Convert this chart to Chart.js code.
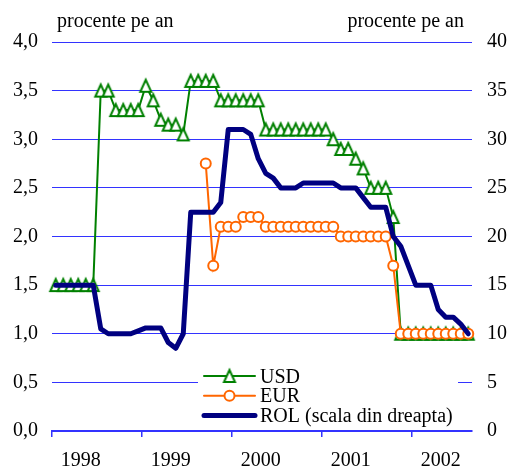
<!DOCTYPE html>
<html>
<head>
<meta charset="utf-8">
<script src="https://cdn.jsdelivr.net/npm/chart.js@4/dist/chart.umd.min.js"></script>
<style>
  body { margin: 0; background: #fff; }
  canvas { display: block; }
</style>
</head>
<body>
<canvas id="grafic" width="511" height="471"></canvas>
<script>
// dobanzi lunare, ian. 1998 - aug. 2002
const ani = ['1998', '1999', '2000', '2001', '2002'];
const nrLuni = 56;

const usd = [1.5, 1.5, 1.5, 1.5, 1.5, 1.5, 3.5, 3.5, 3.3, 3.3, 3.3, 3.3,
             3.55, 3.4, 3.2, 3.15, 3.15, 3.05, 3.6, 3.6, 3.6, 3.6, 3.4, 3.4,
             3.4, 3.4, 3.4, 3.4, 3.1, 3.1, 3.1, 3.1, 3.1, 3.1, 3.1, 3.1,
             3.1, 3.0, 2.9, 2.9, 2.8, 2.7, 2.5, 2.5, 2.5, 2.2, 1.0, 1.0,
             1.0, 1.0, 1.0, 1.0, 1.0, 1.0, 1.0, 1.0];

const eur = [null, null, null, null, null, null, null, null, null, null, null, null,
             null, null, null, null, null, null, null, null, 2.75, 1.7, 2.1, 2.1,
             2.1, 2.2, 2.2, 2.2, 2.1, 2.1, 2.1, 2.1, 2.1, 2.1, 2.1, 2.1,
             2.1, 2.1, 2.0, 2.0, 2.0, 2.0, 2.0, 2.0, 2.0, 1.7, 1.0, 1.0,
             1.0, 1.0, 1.0, 1.0, 1.0, 1.0, 1.0, 1.0];

const rol = [15, 15, 15, 15, 15, 15, 10.5, 10, 10, 10, 10, 10.3,
             10.6, 10.6, 10.6, 9.1, 8.5, 10, 22.5, 22.5, 22.5, 22.5, 23.5, 31,
             31, 31, 30.5, 28, 26.5, 26, 25, 25, 25, 25.5, 25.5, 25.5,
             25.5, 25.5, 25, 25, 25, 24, 23, 23, 23, 20, 19, 17,
             15, 15, 15, 12.5, 11.7, 11.7, 11, 10];

const luni = [];
ani.forEach(function(an) {
    for (let m = 1; m <= 12; m++) {
        if (luni.length < nrLuni) luni.push(an + '-' + (m < 10 ? '0' + m : m));
    }
});

const albastru = '#3333ff';
const font = '"Liberation Serif", "Times New Roman", serif';

Chart.defaults.font.family = font;
Chart.defaults.font.size = 20;
Chart.defaults.color = '#000';

// marcaj triunghi, centrat pe mijlocul inaltimii (ca in Excel)
const triunghi = document.createElement('canvas');
triunghi.width = 18;
triunghi.height = 18;
(function() {
    const c = triunghi.getContext('2d');
    c.beginPath();
    c.moveTo(9, 3);
    c.lineTo(14.5, 15);
    c.lineTo(3.5, 15);
    c.closePath();
    c.fillStyle = '#fff';
    c.fill();
    c.lineWidth = 2;
    c.strokeStyle = '#008000';
    c.stroke();
})();

// legenda in interiorul graficului + eticheta "procente pe an"
const legenda = {
    id: 'legenda',
    afterDraw(chart) {
        const ctx = chart.ctx;
        const ca = chart.chartArea;
        const rows = [
            { text: 'USD', color: '#008000', width: 2, style: 'triangle' },
            { text: 'EUR', color: '#ff6600', width: 2, style: 'circle' },
            { text: 'ROL (scala din dreapta)', color: '#000080', width: 5, style: false }
        ];
        const x0 = ca.left + 146;
        ctx.save();
        ctx.fillStyle = '#fff';
        ctx.fillRect(x0, ca.bottom - 69, 260, 64);
        rows.forEach(function(r, i) {
            const y = ca.bottom - 55 + i * 19.7;
            ctx.strokeStyle = r.color;
            ctx.lineWidth = r.width;
            ctx.lineCap = 'round';
            ctx.beginPath();
            ctx.moveTo(x0 + 6, y);
            ctx.lineTo(x0 + 57, y);
            ctx.stroke();
            if (r.style === 'triangle') {
                ctx.drawImage(triunghi, x0 + 31.5 - 9, y - 9);
            } else if (r.style) {
                ctx.fillStyle = '#fff';
                Chart.helpers.drawPoint(ctx, { pointStyle: 'circle', radius: 5, borderWidth: 2, rotation: 0 }, x0 + 31.5, y);
            }
            ctx.fillStyle = '#000';
            ctx.font = '20px ' + font;
            ctx.textAlign = 'left';
            ctx.textBaseline = 'alphabetic';
            ctx.fillText(r.text, x0 + 62, y + 6.5);
        });
        ctx.fillText('procente pe an', ca.left + 5, 27);
        ctx.textAlign = 'right';
        ctx.fillText('procente pe an', ca.right - 8, 27);
        ctx.restore();
    }
};

new Chart(document.getElementById('grafic'), {
    type: 'line',
    data: {
        labels: luni,
        datasets: [{
            label: 'USD',
            data: usd,
            yAxisID: 'y',
            order: 3,
            borderColor: '#008000',
            borderWidth: 2,
            pointStyle: triunghi,
            pointRadius: 6.5,
            tension: 0,
            clip: false
        }, {
            label: 'EUR',
            data: eur,
            yAxisID: 'y',
            order: 2,
            borderColor: '#ff6600',
            borderWidth: 2,
            pointStyle: 'circle',
            pointRadius: 5,
            pointBorderWidth: 2,
            pointBorderColor: '#ff6600',
            pointBackgroundColor: '#fff',
            tension: 0,
            clip: false
        }, {
            label: 'ROL (scala din dreapta)',
            data: rol,
            yAxisID: 'y2',
            order: 1,
            borderColor: '#000080',
            borderWidth: 5,
            borderJoinStyle: 'round',
            borderCapStyle: 'round',
            pointRadius: 0,
            tension: 0,
            clip: false
        }]
    },
    options: {
        responsive: false,
        animation: false,
        layout: { padding: { top: 42, left: 0, right: 0, bottom: 0 } },
        plugins: {
            legend: { display: false },
            tooltip: { enabled: false }
        },
        scales: {
            x: {
                offset: true,
                afterFit: function(scale) { scale.height = 40; },
                grid: {
                    offset: true,
                    drawOnChartArea: false,
                    drawTicks: true,
                    tickLength: 6,
                    lineWidth: 1.5,
                    color: function(c) { return c.index % 12 === 0 ? albastru : 'rgba(0,0,0,0)'; }
                },
                border: { color: albastru, width: 2 },
                ticks: {
                    autoSkip: false,
                    maxRotation: 0,
                    padding: 12,
                    labelOffset: 2.5,
                    callback: function(val, i) {
                        return i % 12 === 3 ? ani[Math.floor(i / 12)] : '';
                    }
                }
            },
            y: {
                position: 'left',
                min: 0,
                max: 4,
                afterFit: function(scale) { scale.width = 52; },
                grid: { color: albastru, lineWidth: 1, drawTicks: false },
                border: { display: false },
                ticks: {
                    stepSize: 0.5,
                    padding: 14,
                    callback: function(v) { return v.toFixed(1).replace('.', ','); }
                }
            },
            y2: {
                position: 'right',
                min: 0,
                max: 40,
                afterFit: function(scale) { scale.width = 39; },
                grid: { drawOnChartArea: false, drawTicks: false },
                border: { display: false },
                ticks: { stepSize: 5, padding: 15 }
            }
        }
    },
    plugins: [legenda]
});
</script>
</body>
</html>
